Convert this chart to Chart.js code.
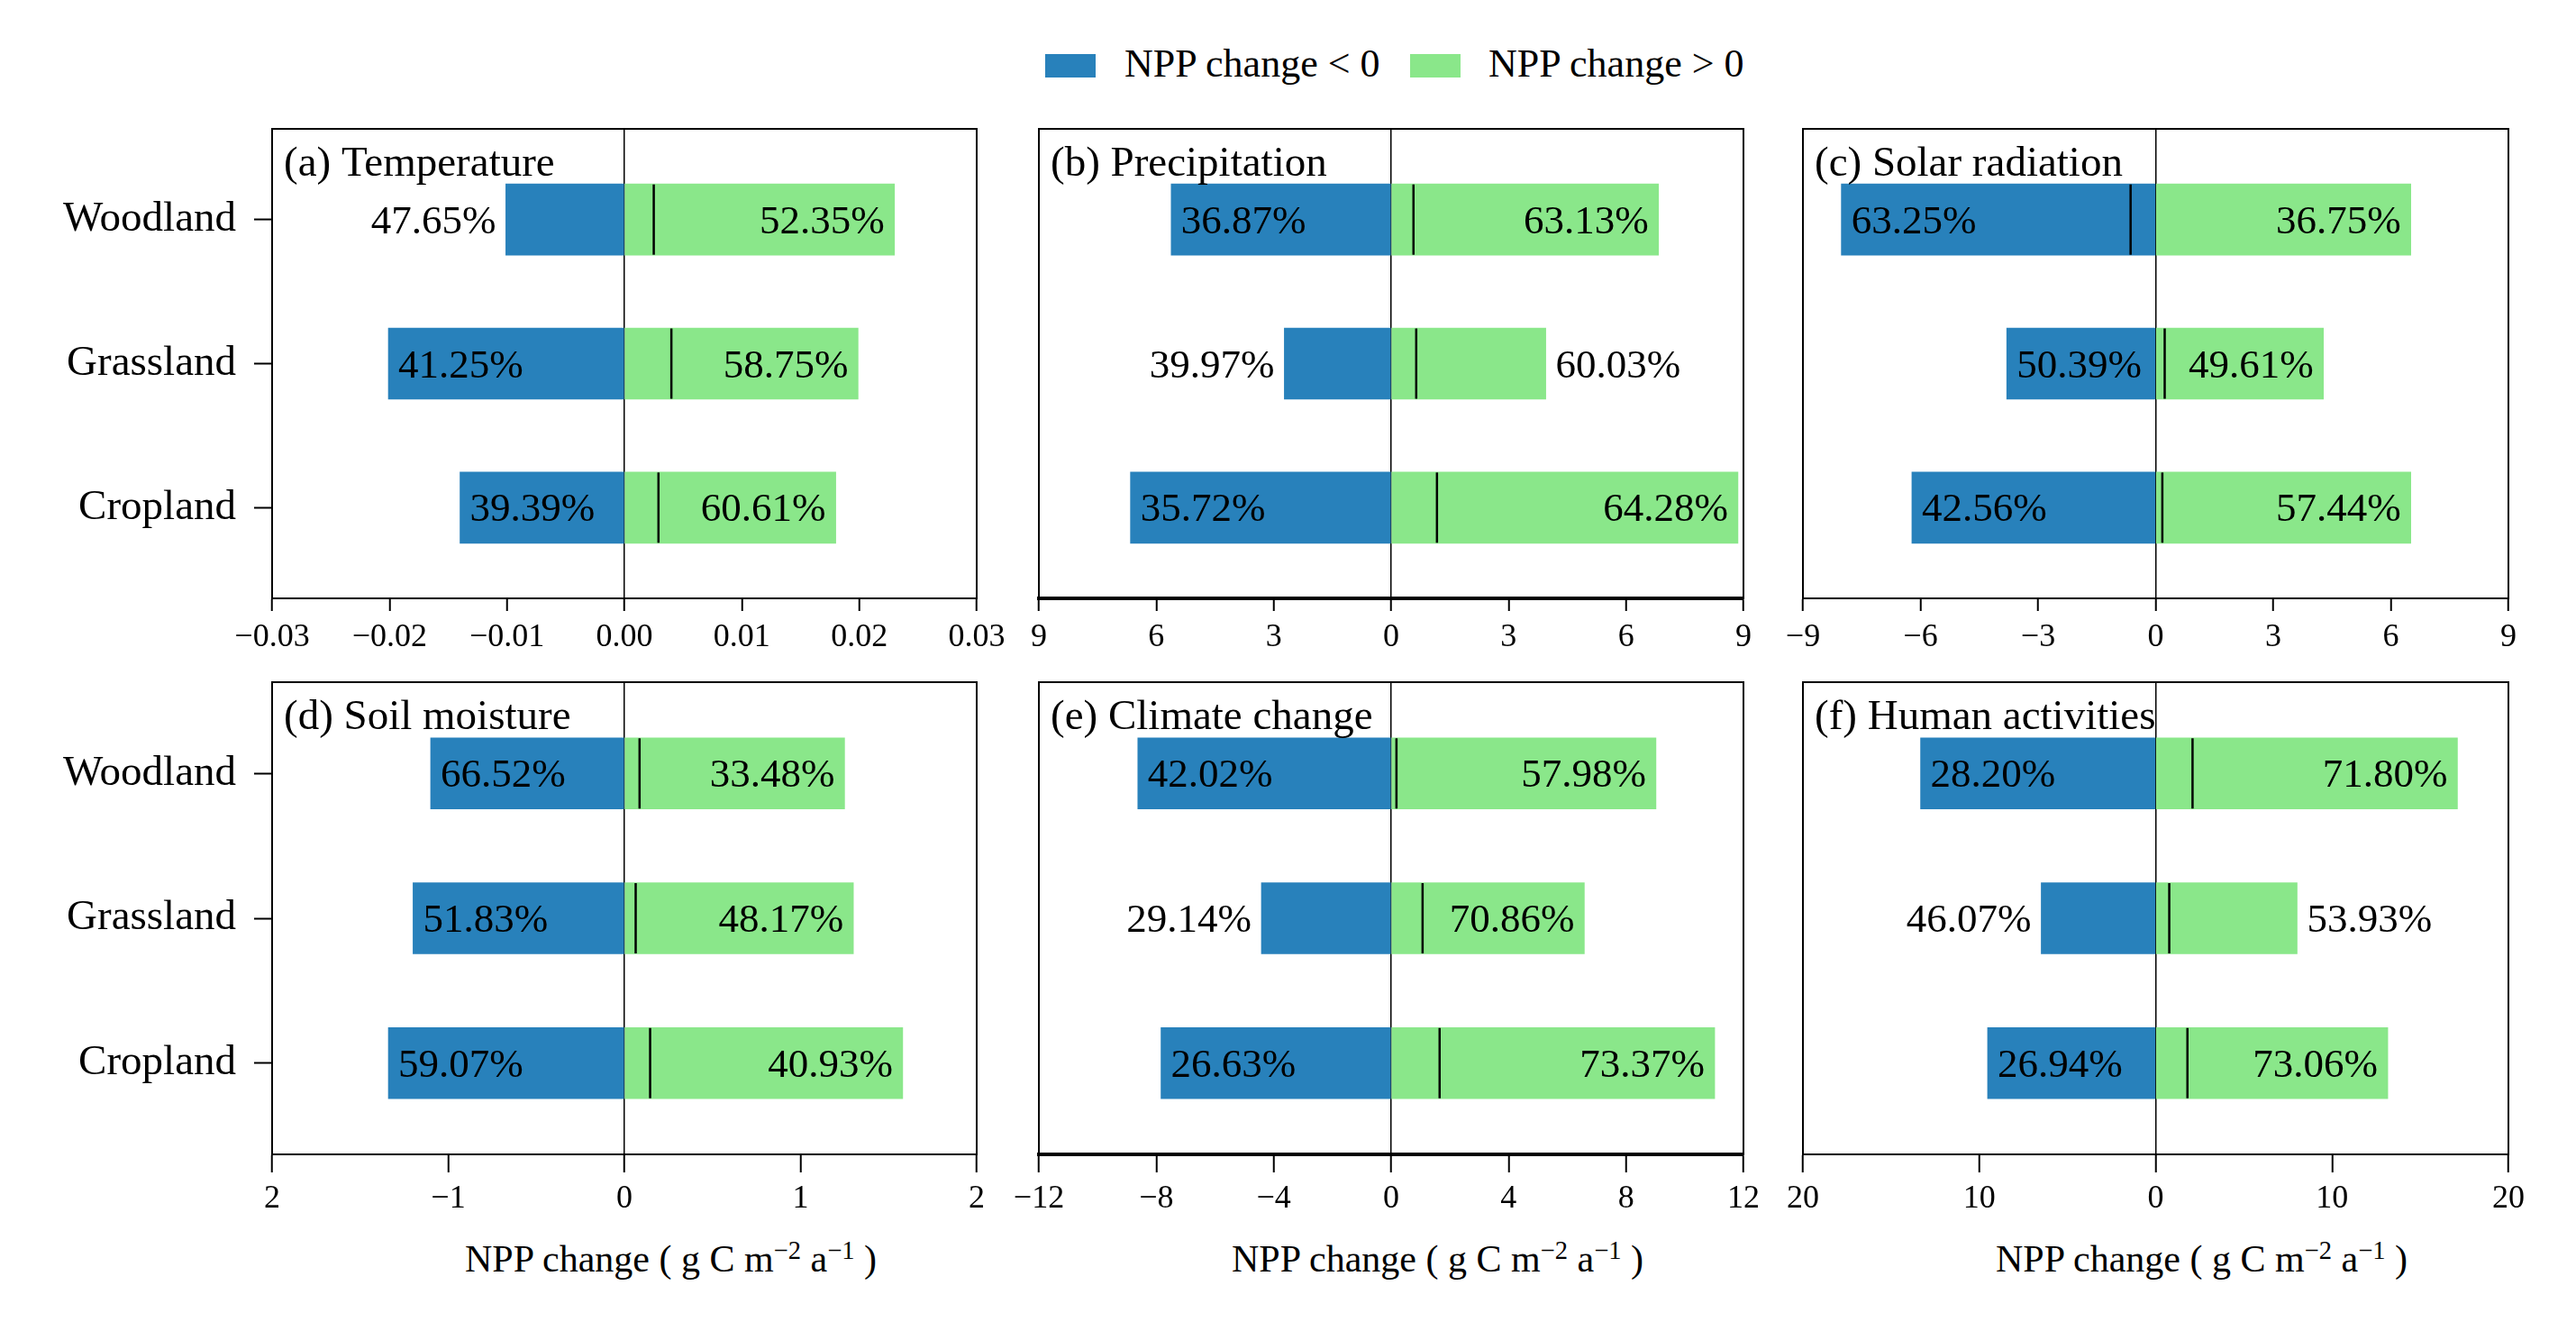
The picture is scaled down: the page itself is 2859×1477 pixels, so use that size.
<!DOCTYPE html>
<html><head><meta charset="utf-8">
<script src="https://cdn.jsdelivr.net/npm/chart.js@4.4.1/dist/chart.umd.min.js"></script>
<style>
html,body{margin:0;padding:0;background:#fff;}
body{width:2859px;height:1477px;position:relative;overflow:hidden;font-family:'Liberation Serif','Times New Roman',serif;}
canvas{position:absolute;}
.lg-box{position:absolute;width:56px;height:26px;}
.lg-txt,.ax-title{position:absolute;white-space:nowrap;color:#000;font-family:'Liberation Serif','Times New Roman',serif;}
.lg-txt{font-size:44px;line-height:44px;}
.ax-title{font-size:42px;line-height:42px;}
sup{font-size:0.68em;vertical-align:0.5em;line-height:0;}
</style></head><body>
<script>
// ---------- data ----------
const categories = ['Woodland', 'Grassland', 'Cropland'];
const seriesNames = ['NPP change < 0', 'NPP change > 0'];
const panelTitles = ['(a) Temperature', '(b) Precipitation', '(c) Solar radiation',
                     '(d) Soil moisture', '(e) Climate change', '(f) Human activities'];
const axisTitle = 'NPP change ( g C m<sup>\u22122</sup> a<sup>\u22121</sup> )';

const negA = [-0.0101, -0.0201, -0.0140];
const posA = [0.0230, 0.0199, 0.0180];
const meanA = [0.0025, 0.0040, 0.0029];
const pctNegA = [47.65, 41.25, 39.39];
const pctPosA = [52.35, 58.75, 60.61];
const tickValA = [-0.03, -0.02, -0.01, 0, 0.01, 0.02, 0.03];
const tickLabA = ['\u22120.03', '\u22120.02', '\u22120.01', '0.00', '0.01', '0.02', '0.03'];

const negB = [-5.62, -2.73, -6.66];
const posB = [6.83, 3.95, 8.86];
const meanB = [0.57, 0.64, 1.17];
const pctNegB = [36.87, 39.97, 35.72];
const pctPosB = [63.13, 60.03, 64.28];
const tickValB = [-9, -6, -3, 0, 3, 6, 9];
const tickLabB = ['9', '6', '3', '0', '3', '6', '9'];

const negC = [-8.02, -3.80, -6.22];
const posC = [6.51, 4.28, 6.51];
const meanC = [-0.64, 0.23, 0.17];
const pctNegC = [63.25, 50.39, 42.56];
const pctPosC = [36.75, 49.61, 57.44];
const tickValC = [-9, -6, -3, 0, 3, 6, 9];
const tickLabC = ['\u22129', '\u22126', '\u22123', '0', '3', '6', '9'];

const negD = [-1.10, -1.20, -1.34];
const posD = [1.25, 1.30, 1.58];
const meanD = [0.086, 0.064, 0.146];
const pctNegD = [66.52, 51.83, 59.07];
const pctPosD = [33.48, 48.17, 40.93];
const tickValD = [-2, -1, 0, 1, 2];
const tickLabD = ['2', '\u22121', '0', '1', '2'];

const negE = [-8.63, -4.42, -7.84];
const posE = [9.02, 6.58, 11.02];
const meanE = [0.18, 1.07, 1.65];
const pctNegE = [42.02, 29.14, 26.63];
const pctPosE = [57.98, 70.86, 73.37];
const tickValE = [-12, -8, -4, 0, 4, 8, 12];
const tickLabE = ['\u221212', '\u22128', '\u22124', '0', '4', '8', '12'];

const negF = [-13.33, -6.49, -9.53];
const posF = [17.11, 8.02, 13.16];
const meanF = [2.09, 0.77, 1.80];
const pctNegF = [28.20, 46.07, 26.94];
const pctPosF = [71.80, 53.93, 73.06];
const tickValF = [-20, -10, 0, 10, 20];
const tickLabF = ['20', '10', '0', '10', '20'];

// ---------- styling / layout ----------
const COLORS = { neg: '#2881bb', pos: '#8ae78a' };
const FONT = "'Liberation Serif', 'Times New Roman', serif";
const COL_L = [302, 1153, 2001];
const COL_R = [1084, 1935, 2784];
const ROW_T = [143, 757];
const ROW_B = [664, 1281];

const panels = [
  { title: panelTitles[0], neg: negA, pos: posA, mean: meanA, pn: pctNegA, pp: pctPosA, tv: tickValA, tl: tickLabA, col: 0, row: 0, axisW: 2 },
  { title: panelTitles[1], neg: negB, pos: posB, mean: meanB, pn: pctNegB, pp: pctPosB, tv: tickValB, tl: tickLabB, col: 1, row: 0, axisW: 4 },
  { title: panelTitles[2], neg: negC, pos: posC, mean: meanC, pn: pctNegC, pp: pctPosC, tv: tickValC, tl: tickLabC, col: 2, row: 0, axisW: 2 },
  { title: panelTitles[3], neg: negD, pos: posD, mean: meanD, pn: pctNegD, pp: pctPosD, tv: tickValD, tl: tickLabD, col: 0, row: 1, axisW: 2 },
  { title: panelTitles[4], neg: negE, pos: posE, mean: meanE, pn: pctNegE, pp: pctPosE, tv: tickValE, tl: tickLabE, col: 1, row: 1, axisW: 4 },
  { title: panelTitles[5], neg: negF, pos: posF, mean: meanF, pn: pctNegF, pp: pctPosF, tv: tickValF, tl: tickLabF, col: 2, row: 1, axisW: 2 }
];

const decoPlugin = {
  id: 'deco',
  afterDatasetsDraw(chart, args, opts) {
    const p = opts.panel;
    if (!p) return;
    const ctx = chart.ctx, a = chart.chartArea, xs = chart.scales.x;
    ctx.save();
    ctx.fillStyle = '#000';
    ctx.font = '45px ' + FONT;
    ctx.textBaseline = 'alphabetic';
    const negMeta = chart.getDatasetMeta(0), posMeta = chart.getDatasetMeta(1);
    const pad = 11, minPad = 8, gap = 4;
    for (let i = 0; i < categories.length; i++) {
      const meanPx = xs.getPixelForValue(p.mean[i]);
      const nb = negMeta.data[i];
      const ty = nb.y + 15;
      let t = p.pn[i].toFixed(2) + '%';
      let w = ctx.measureText(t).width;
      let len = nb.base - nb.x;
      let inside = len >= w + 2 * minPad;
      if (inside && p.mean[i] < 0) {
        const s = nb.x + pad, e = s + w;
        if (meanPx > s - gap && meanPx < e + gap) inside = false;
      }
      if (inside) { ctx.textAlign = 'left'; ctx.fillText(t, nb.x + pad, ty); }
      else { ctx.textAlign = 'right'; ctx.fillText(t, nb.x - pad, ty); }
      const pb = posMeta.data[i];
      t = p.pp[i].toFixed(2) + '%';
      w = ctx.measureText(t).width;
      len = pb.x - pb.base;
      inside = len >= w + 2 * minPad;
      if (inside && p.mean[i] > 0) {
        const e = pb.x - pad, s = e - w;
        if (meanPx > s - gap && meanPx < e + gap) inside = false;
      }
      if (inside) { ctx.textAlign = 'right'; ctx.fillText(t, pb.x - pad, ty); }
      else { ctx.textAlign = 'left'; ctx.fillText(t, pb.x + pad, ty); }
    }
    ctx.font = '47px ' + FONT;
    ctx.textAlign = 'left';
    ctx.fillText(p.title, a.left + 13, a.top + 52);
    ctx.strokeStyle = '#000';
    ctx.lineWidth = 2;
    ctx.strokeRect(a.left, a.top, a.right - a.left, a.bottom - a.top);
    ctx.restore();
  }
};

panels.forEach(p => {
  const padL = p.col === 0 ? 0 : 30;
  const yW = p.col === 0 ? COL_L[0] : 0;
  const cLeft = COL_L[p.col] - padL - yW;
  const cW = COL_R[p.col] + 30 - cLeft;
  const xH = 70;
  const cTop = ROW_T[p.row] - 20;
  const cH = (ROW_B[p.row] - ROW_T[p.row]) + 20 + xH;
  const cv = document.createElement('canvas');
  cv.width = cW; cv.height = cH;
  cv.style.left = cLeft + 'px'; cv.style.top = cTop + 'px';
  cv.style.width = cW + 'px'; cv.style.height = cH + 'px';
  document.body.appendChild(cv);

  new Chart(cv, {
    type: 'bar',
    data: {
      datasets: [
        { label: seriesNames[0], data: p.neg.map((v, i) => ({ x: v, y: i })),
          backgroundColor: COLORS.neg, borderWidth: 0, grouped: false, barThickness: 79, order: 2 },
        { label: seriesNames[1], data: p.pos.map((v, i) => ({ x: v, y: i })),
          backgroundColor: COLORS.pos, borderWidth: 0, grouped: false, barThickness: 79, order: 2 },
        { type: 'line', label: 'mean', data: p.mean.map((v, i) => ({ x: v, y: i })),
          showLine: false, pointStyle: 'line', pointRotation: 90, pointRadius: 39, pointHoverRadius: 39,
          pointBorderWidth: 2.5, pointBorderColor: '#000', pointBackgroundColor: '#000', borderColor: '#000', order: 1 }
      ]
    },
    options: {
      indexAxis: 'y',
      responsive: false,
      maintainAspectRatio: false,
      animation: false,
      devicePixelRatio: 1,
      layout: { autoPadding: false, padding: { left: padL, right: 30, top: 20, bottom: 0 } },
      plugins: { legend: { display: false }, tooltip: { enabled: false }, deco: { panel: p } },
      scales: {
        x: {
          type: 'linear', min: p.tv[0], max: p.tv[p.tv.length - 1], offset: false,
          afterBuildTicks: s => { s.ticks = p.tv.map(v => ({ value: v })); },
          afterFit: s => { s.height = xH; s.paddingLeft = 0; s.paddingRight = 0; s.paddingTop = 0; s.paddingBottom = 0; },
          ticks: { callback: (v, i) => p.tl[i], font: { family: FONT, size: 36 }, color: '#000',
                   padding: 8, autoSkip: false, maxRotation: 0, minRotation: 0 },
          grid: { offset: false, drawOnChartArea: true, drawTicks: true,
                  color: c => (c.tick && Math.abs(c.tick.value) < 1e-12) ? '#000' : 'rgba(0,0,0,0)',
                  lineWidth: 1.5, tickColor: '#000', tickWidth: 2, tickLength: p.row === 0 ? 14 : 20 },
          border: { display: true, color: '#000', width: p.axisW }
        },
        y: {
          type: 'linear', min: -0.63, max: 2.63, reverse: true, offset: false,
          display: p.col === 0,
          afterBuildTicks: s => { s.ticks = categories.map((c, i) => ({ value: i })); },
          afterFit: s => { s.width = yW; s.paddingTop = 0; s.paddingBottom = 0; s.paddingLeft = 0; s.paddingRight = 0; },
          ticks: { callback: v => categories[v], font: { family: FONT, size: 47 }, color: '#000',
                   padding: 20, autoSkip: false },
          grid: { offset: false, drawOnChartArea: false, drawTicks: true, color: 'rgba(0,0,0,0)',
                  tickColor: '#000', tickWidth: 2, tickLength: 20 },
          border: { display: true, color: '#000', width: 2 }
        }
      }
    },
    plugins: [decoPlugin]
  });
});

// legend (HTML)
const legendItems = [
  { name: seriesNames[0], color: COLORS.neg, box: 1160, txt: 1248 },
  { name: seriesNames[1], color: COLORS.pos, box: 1565, txt: 1652 }
];
legendItems.forEach(it => {
  const b = document.createElement('div');
  b.className = 'lg-box';
  b.style.left = it.box + 'px'; b.style.top = '60px'; b.style.background = it.color;
  document.body.appendChild(b);
  const t = document.createElement('div');
  t.className = 'lg-txt';
  t.style.left = it.txt + 'px'; t.style.top = '49px';
  t.textContent = it.name;
  document.body.appendChild(t);
});
// x-axis titles for bottom row
[0, 1, 2].forEach(c => {
  const d = document.createElement('div');
  d.className = 'ax-title';
  d.style.left = (COL_L[c] + 214) + 'px';
  d.style.top = '1376px';
  d.innerHTML = axisTitle;
  document.body.appendChild(d);
});
</script>
</body></html>
